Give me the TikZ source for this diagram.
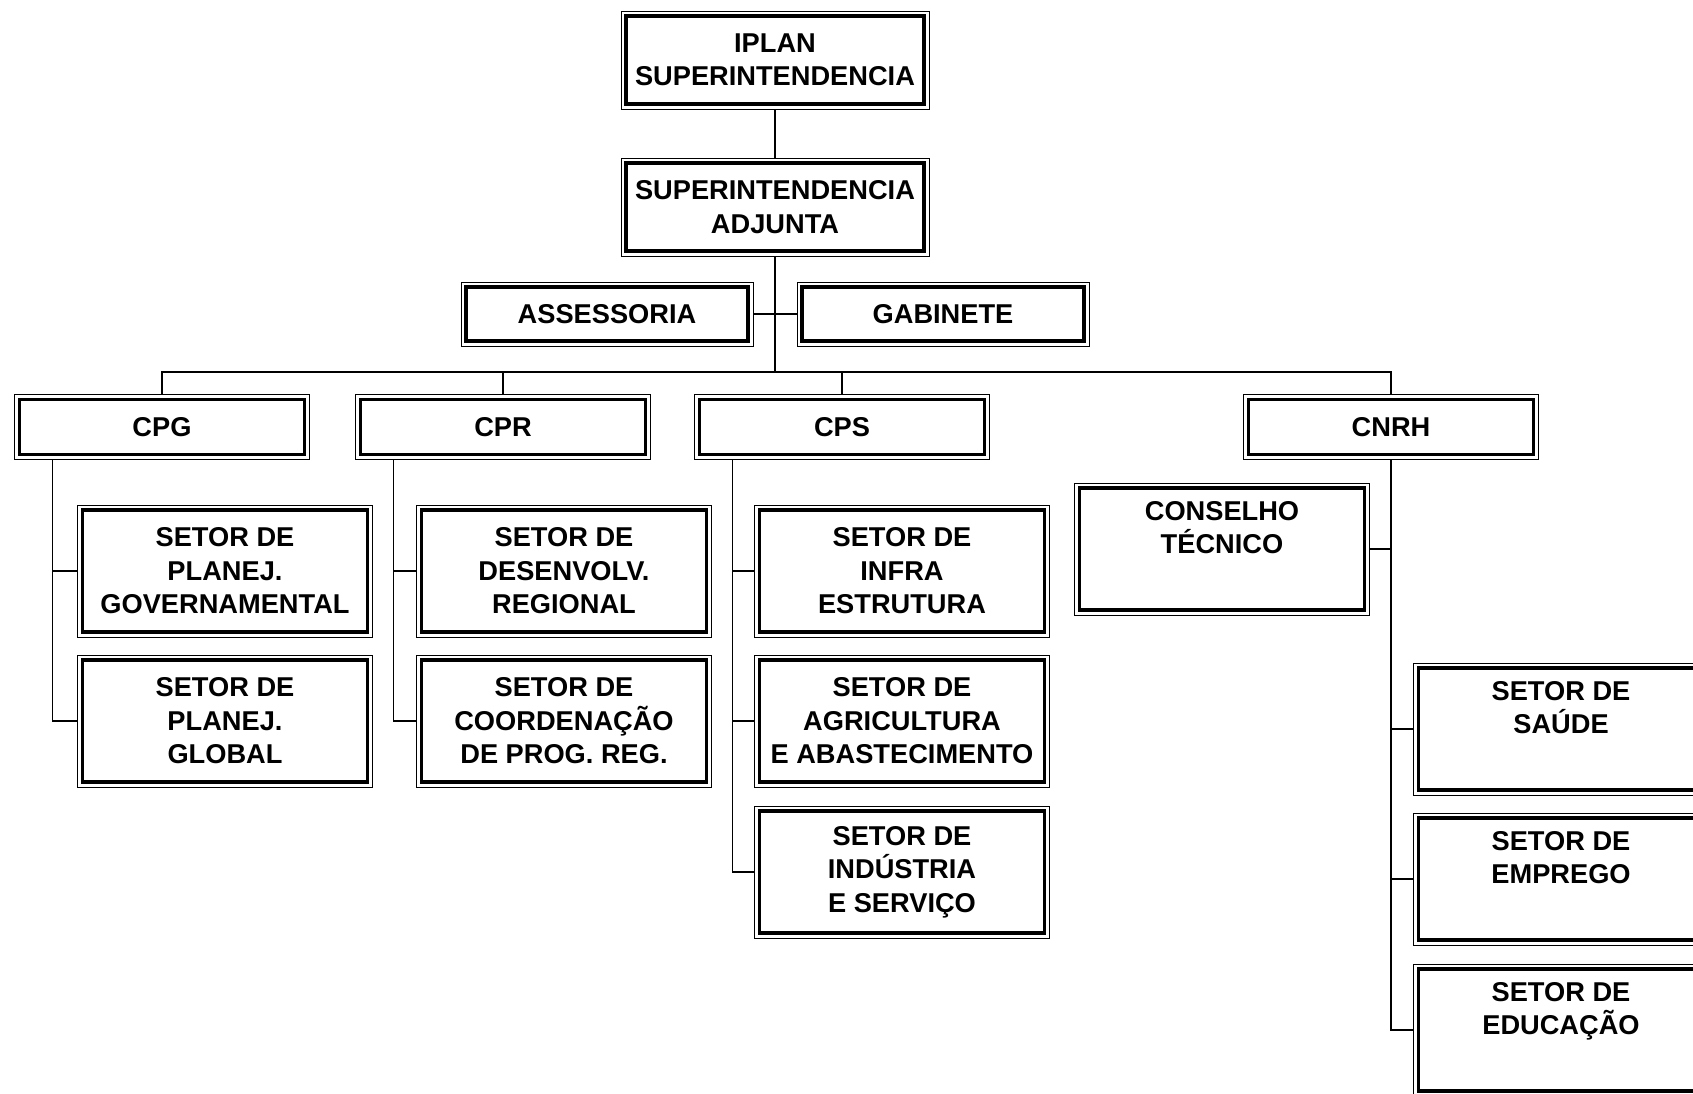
\documentclass[tikz,border=0pt]{standalone}
\usepackage{fontspec}
\setmainfont{Liberation Sans}

\tikzset{
  orgbox/.style={draw, line width=0.5pt, fill=white, align=center, inner sep=1pt,
    font=\bfseries\fontsize{15.5}{19}\selectfont,
    path picture={\draw[line width=1.8pt]
      ([shift={(2.8pt,2.8pt)}]path picture bounding box.south west) rectangle
      ([shift={(-2.8pt,-2.8pt)}]path picture bounding box.north east);}},
  topbox/.style={orgbox, minimum width=6.16cm, minimum height=1.96cm},
  staffbox/.style={orgbox, minimum width=5.84cm, minimum height=1.28cm},
  unitbox/.style={orgbox, minimum width=5.9cm, minimum height=1.3cm},
  setorbox/.style={orgbox, minimum width=5.9cm, minimum height=2.64cm},
  link/.style={line width=0.9pt}
}

\begin{document}
\begin{tikzpicture}[x=0.02cm, y=-0.02cm]
  \clip (0,0) rectangle (1693,1094); % page size

  % top of the chart
  \node[topbox] (iplan) at (775,60) {IPLAN\\SUPERINTENDENCIA};
  \node[topbox] (supadj) at (775,207) {SUPERINTENDENCIA\\ADJUNTA};
  \node[staffbox] (assess) at (607,314) {ASSESSORIA};
  \node[staffbox] (gab) at (943,314) {GABINETE};
  \coordinate (bus) at (775,372);

  % coordinations
  \node[unitbox] (cpg) at (162,427) {CPG};
  \node[unitbox] (cpr) at (503,427) {CPR};
  \node[unitbox] (cps) at (842,427) {CPS};
  \node[unitbox] (cnrh) at (1391,427) {CNRH};

  % sectors
  \node[setorbox] (pg1) at (225,571) {SETOR DE\\PLANEJ.\\GOVERNAMENTAL};
  \node[setorbox] (pg2) at (225,721) {SETOR DE\\PLANEJ.\\GLOBAL};
  \node[setorbox] (pr1) at (564,571) {SETOR DE\\DESENVOLV.\\REGIONAL};
  \node[setorbox] (pr2) at (564,721) {SETOR DE\\COORDENAÇÃO\\DE PROG. REG.};
  \node[setorbox] (ps1) at (902,571) {SETOR DE\\INFRA\\ESTRUTURA};
  \node[setorbox] (ps2) at (902,721) {SETOR DE\\AGRICULTURA\\E ABASTECIMENTO};
  \node[setorbox] (ps3) at (902,872) {SETOR DE\\INDÚSTRIA\\E SERVIÇO};
  \node[setorbox] (ct) at (1222,549) {CONSELHO\\TÉCNICO\\\strut};
  \node[setorbox] (rh1) at (1561,729) {SETOR DE\\SAÚDE\\\strut};
  \node[setorbox] (rh2) at (1561,879) {SETOR DE\\EMPREGO\\\strut};
  \node[setorbox] (rh3) at (1561,1030) {SETOR DE\\EDUCAÇÃO\\\strut};

  % connectors
  \draw[link] (iplan) -- (supadj);
  \draw[link] (supadj.south) -- (bus);
  \draw[link] (assess.east) -- (gab.west);
  \draw[link] (cpg.north) -- (cpg.north |- bus) -- (cnrh.north |- bus) -- (cnrh.north);
  \foreach \u in {cpr,cps}
    \draw[link] (\u.north) -- (\u.north |- bus);
  \foreach \u/\s in {cpg/pg1, cpg/pg2, cpr/pr1, cpr/pr2, cps/ps1, cps/ps2, cps/ps3}
    \draw[link] ([xshift=0.77cm]\u.south west) |- (\s.west);
  \foreach \s in {rh1,rh2,rh3}
    \draw[link] (cnrh.south) |- (\s.west);
  \draw[link] (ct.east) -- (ct.east -| cnrh.south);
\end{tikzpicture}
\end{document}
